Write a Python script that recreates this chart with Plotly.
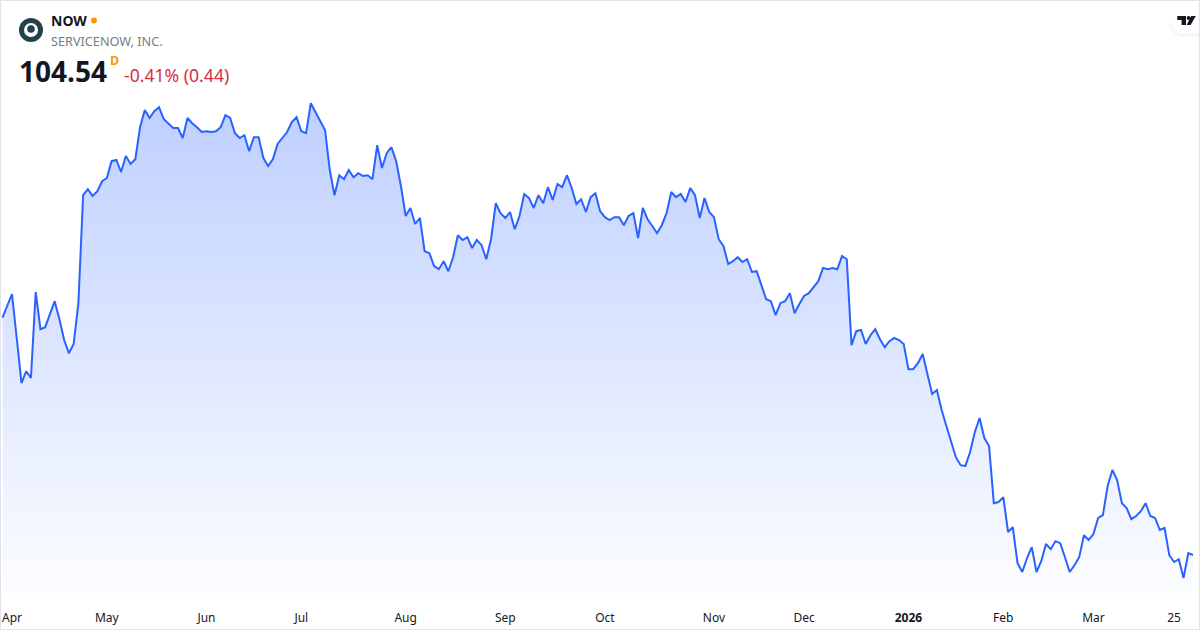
import plotly.graph_objects as go

# daily closes (y axis is hidden so the scale is estimated)
close = [
    163.9, 166.8, 169.8, 158.8, 147.5, 150.5, 148.8, 170.3, 161.0, 161.5, 164.5, 168.0, 163.5, 158.3, 155.0, 157.3, 167.5,
    194.5, 196.0, 194.3, 195.5, 198.0, 198.8, 203.0, 203.3, 200.3, 204.3, 202.3, 203.5, 211.5, 215.8, 213.8, 215.5, 216.5,
    213.5, 212.5, 211.3, 211.3, 208.8, 213.8, 212.5, 211.5, 210.3, 210.5, 210.3, 210.5, 211.5, 214.5, 213.8, 210.0, 208.8,
    209.5, 205.5, 209.0, 209.0, 203.8, 201.8, 203.5, 207.3, 208.8, 210.3, 212.8, 214.0, 210.5, 210.0, 217.5, 215.3, 212.8,
    210.8, 200.8, 194.5, 199.5, 198.5, 200.8, 199.0, 200.0, 199.3, 199.5, 198.5, 207.0, 201.3, 205.0, 206.5, 203.0, 196.8,
    189.3, 191.3, 187.3, 188.8, 180.5, 180.0, 176.8, 176.0, 178.0, 175.5, 179.0, 184.5, 183.3, 184.0, 181.3, 183.3, 182.0,
    178.5, 183.5, 192.5, 190.0, 188.8, 190.3, 186.0, 189.3, 194.8, 193.8, 191.3, 194.5, 192.5, 196.5, 193.3, 197.3, 196.5,
    199.5, 196.3, 192.3, 193.5, 190.3, 194.0, 195.0, 190.5, 189.0, 188.3, 189.0, 189.0, 187.0, 189.3, 190.0, 183.8, 191.3,
    188.5, 186.8, 185.0, 187.0, 190.0, 195.3, 194.0, 194.8, 192.8, 196.3, 194.5, 188.8, 193.8, 190.3, 189.0, 183.5, 181.8,
    177.3, 178.0, 179.0, 177.8, 178.5, 175.3, 175.5, 172.0, 168.5, 168.0, 164.5, 167.5, 168.0, 170.0, 165.0, 167.3,
    169.3, 170.0, 171.5, 173.0, 176.3, 176.0, 176.3, 176.0, 179.3, 178.5, 157.0, 160.5, 160.8, 157.3, 159.5, 161.0, 158.5,
    156.5, 158.0, 158.8, 158.3, 157.3, 151.0, 151.0, 152.5, 154.8, 149.8, 144.8, 145.8, 140.8, 136.8, 132.8, 129.0, 127.0,
    126.8, 130.3, 135.3, 138.8, 133.8, 131.8, 117.5, 117.8, 119.0, 110.3, 111.5, 102.5, 100.3, 103.8, 106.5, 100.3, 103.0,
    107.3, 106.0, 108.0, 107.5, 104.0, 100.3, 102.0, 104.0, 109.5, 108.3, 109.8, 113.8, 114.5, 121.8, 125.8, 123.3, 117.5,
    116.3, 113.5, 114.3, 115.5, 117.5, 114.3, 113.8, 110.8, 111.3, 104.5, 102.8, 103.5, 98.8, 105.0, 104.54,
]
day = list(range(len(close)))

tick_days = [2, 22, 43, 63, 85, 106, 127, 150, 169, 191, 211, 230, 247]
tick_labels = ["Apr", "May", "Jun", "Jul", "Aug", "Sep", "Oct", "Nov", "Dec", "<b>2026</b>", "Feb", "Mar", "25"]

W, H = 1200, 630
BLUE = "#2962ff"
INK = "#131722"
FONT = "Noto Sans"


def px(x):
    return x / W


def py(y):
    return 1 - y / H


def circle(cx, cy, r, color):
    return dict(type="circle", xref="paper", yref="paper", x0=px(cx - r), x1=px(cx + r),
                y0=py(cy + r), y1=py(cy - r), fillcolor=color, line_width=0)


def poly(points, color):
    d = "M" + " L".join(f"{px(x):.5f},{py(y):.5f}" for x, y in points) + " Z"
    return dict(type="path", path=d, xref="paper", yref="paper", fillcolor=color, line_width=0)


def pill(x0, y0, r, color, line=None):
    # white tab on the right edge, rounded on the left
    k = r * 0.45
    d = (f"M{px(W + 5):.5f},{py(y0):.5f} L{px(x0 + r):.5f},{py(y0):.5f} "
         f"C{px(x0 + k):.5f},{py(y0):.5f} {px(x0):.5f},{py(y0 + k):.5f} {px(x0):.5f},{py(y0 + r):.5f} "
         f"C{px(x0):.5f},{py(y0 + 2 * r - k):.5f} {px(x0 + k):.5f},{py(y0 + 2 * r):.5f} {px(x0 + r):.5f},{py(y0 + 2 * r):.5f} "
         f"L{px(W + 5):.5f},{py(y0 + 2 * r):.5f} Z")
    return dict(type="path", path=d, xref="paper", yref="paper", fillcolor=color, line_width=0)


def label(x, y, text, size, color, bold=False):
    return dict(x=px(x), y=py(y), xref="paper", yref="paper", xanchor="left", yanchor="middle",
                text=f"<b>{text}</b>" if bold else text, showarrow=False, align="left",
                font=dict(family=FONT, size=size, color=color))


fig = go.Figure()
fig.add_trace(go.Scatter(
    x=day, y=close, mode="lines", line=dict(color=BLUE, width=2),
    fill="tozeroy",
    fillgradient=dict(type="vertical", start=max(close), stop=93.3,
                      colorscale=[[0, "rgba(41,98,255,0.30)"], [1, "rgba(41,98,255,0.01)"]]),
    hoverinfo="x+y",
))

shapes = [
    # logo
    circle(31, 30, 12, "#24424a"),
    circle(31, 30, 7, "#ffffff"),
    circle(31, 29, 3.8, "#24424a"),
    # market status dot
    circle(94, 20.5, 3, "#ff9800"),
    # tradingview tab with a soft shadow below
    pill(1169, 10, 14, "rgba(19,23,34,0.012)"),
    pill(1170, 10, 13.5, "rgba(19,23,34,0.02)"),
    pill(1171, 9, 12, "#ffffff"),
    poly([(1177.3, 16), (1186, 16), (1186, 25), (1181.6, 25), (1181.6, 20), (1177.3, 20)], "#131722"),
    circle(1188.6, 18, 1.9, "#131722"),
    poly([(1191.2, 16), (1195.8, 16), (1190.6, 25), (1186.6, 25)], "#131722"),
    # outer frame
    dict(type="rect", xref="paper", yref="paper", x0=px(0.5), x1=px(W - 0.5), y0=py(H - 0.5), y1=py(0.5),
         line=dict(color="#e0e3eb", width=1), fillcolor="rgba(0,0,0,0)"),
]

annotations = [
    label(49, 21, "NOW", 14, INK, bold=True),
    label(49, 41, "SERVICENOW, INC.", 12.7, "#787b86"),
    label(17, 71, "104.54", 28, INK, bold=True),
    label(108, 61, "D", 12.5, "#ff9800", bold=True),
    label(122, 75, "-0.41% (0.44)", 17.6, "#d32f45"),
]

fig.update_layout(
    width=W, height=H,
    margin=dict(l=0, r=0, t=0, b=0),
    paper_bgcolor="white", plot_bgcolor="white",
    showlegend=False,
    shapes=shapes,
    annotations=annotations,
    font=dict(family=FONT, color=INK, size=12),
    xaxis=dict(range=[-0.527, 252.47], tickmode="array", tickvals=tick_days, ticktext=tick_labels,
               showgrid=False, zeroline=False, showline=False, ticks="outside", ticklen=7,
               tickcolor="rgba(0,0,0,0)", tickfont=dict(family=FONT, size=12, color=INK), automargin=False),
    yaxis=dict(range=[93.3, 243.3], domain=[30 / H, 1], visible=False, automargin=False),
)

# page has a default body margin, drop it so the figure fills the window
fig.write_html("out.html", config={"displayModeBar": False},
               post_script="document.body.style.margin='0';document.body.style.overflow='hidden';")
